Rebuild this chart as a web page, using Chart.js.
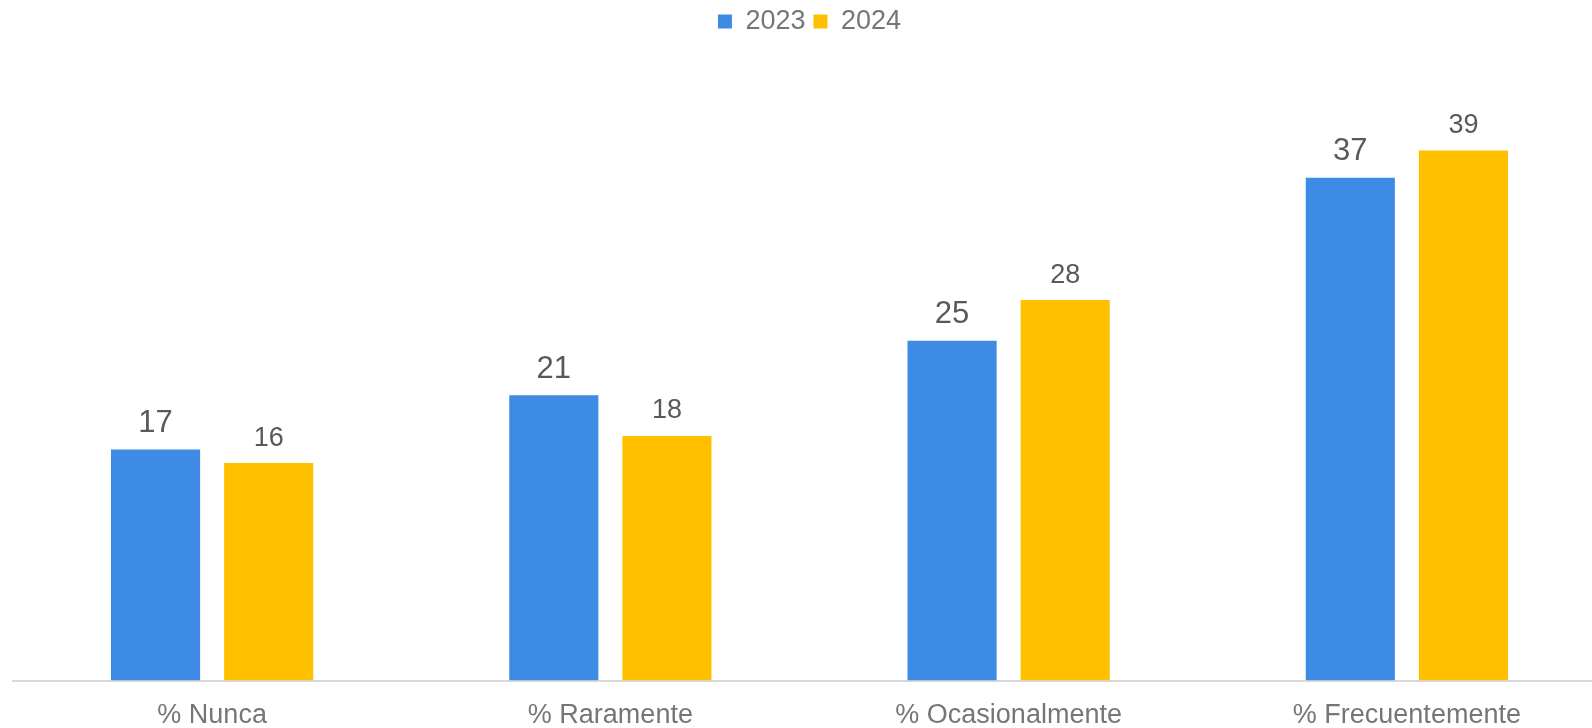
<!DOCTYPE html>
<html>
<head>
<meta charset="utf-8">
<script src="https://cdn.jsdelivr.net/npm/chart.js@4.4.1/dist/chart.umd.min.js"></script>
<style>
    html, body { margin: 0; padding: 0; background: #fff; overflow: hidden; }
    #wrap { width: 1606px; height: 728px; }
</style>
</head>
<body>
<div id="wrap"><canvas id="myChart" width="1606" height="728"></canvas></div>
<script>
const categories = ['% Nunca', '% Raramente', '% Ocasionalmente', '% Frecuentemente'];
const seriesNames = ['2023', '2024'];
const values2023 = [17, 21, 25, 37];
const values2024 = [16, 18, 28, 39];

const FONT = '"Liberation Sans", Arial, sans-serif';

// etiquetas de valor encima de cada barra
const labelSizes = [31, 27];
const valueLabels = {
    id: 'valueLabels',
    afterDatasetsDraw(chart) {
        const ctx = chart.ctx;
        ctx.save();
        ctx.fillStyle = '#595959';
        ctx.textAlign = 'center';
        ctx.textBaseline = 'alphabetic';
        chart.data.datasets.forEach((ds, i) => {
            const meta = chart.getDatasetMeta(i);
            ctx.font = labelSizes[i] + 'px ' + FONT;
            meta.data.forEach((bar, j) => {
                ctx.fillText(String(ds.data[j]), bar.x, bar.y - 17.5);
            });
        });
        ctx.restore();
    },
};

// un poco más de espacio bajo la leyenda
const legendGap = {
    id: 'legendGap',
    beforeInit(chart) {
        const fit = chart.legend.fit;
        chart.legend.fit = function () {
            fit.bind(chart.legend)();
            this.height += 24;
        };
    },
};

window.onload = function () {
    const ctx = document.getElementById('myChart').getContext('2d');
    new Chart(ctx, {
        type: 'bar',
        data: {
            labels: categories,
            datasets: [
                {
                    label: seriesNames[0],
                    data: values2023,
                    backgroundColor: '#3D8BE5',
                },
                {
                    label: seriesNames[1],
                    data: values2024,
                    backgroundColor: '#FFC000',
                },
            ],
        },
        options: {
            responsive: false,
            animation: false,
            categoryPercentage: 0.568,
            barPercentage: 0.788,
            layout: {
                padding: { left: 13, right: 0, top: 0, bottom: 0 },
            },
            plugins: {
                legend: {
                    position: 'top',
                    labels: {
                        boxWidth: 14,
                        boxHeight: 14,
                        padding: 8,
                        color: '#767676',
                        font: { family: FONT, size: 27 },
                    },
                },
                tooltip: { enabled: false },
            },
            scales: {
                x: {
                    grid: { display: false, drawTicks: false },
                    border: { display: true, color: '#d9d9d9', width: 2 },
                    ticks: {
                        color: '#767676',
                        padding: 19,
                        font: { family: FONT, size: 27 },
                    },
                    afterFit(scale) {
                        scale.height = 47.5;
                    },
                },
                y: {
                    display: false,
                    min: 0,
                    max: 45,
                },
            },
        },
        plugins: [valueLabels, legendGap],
    });
};
</script>
</body>
</html>
